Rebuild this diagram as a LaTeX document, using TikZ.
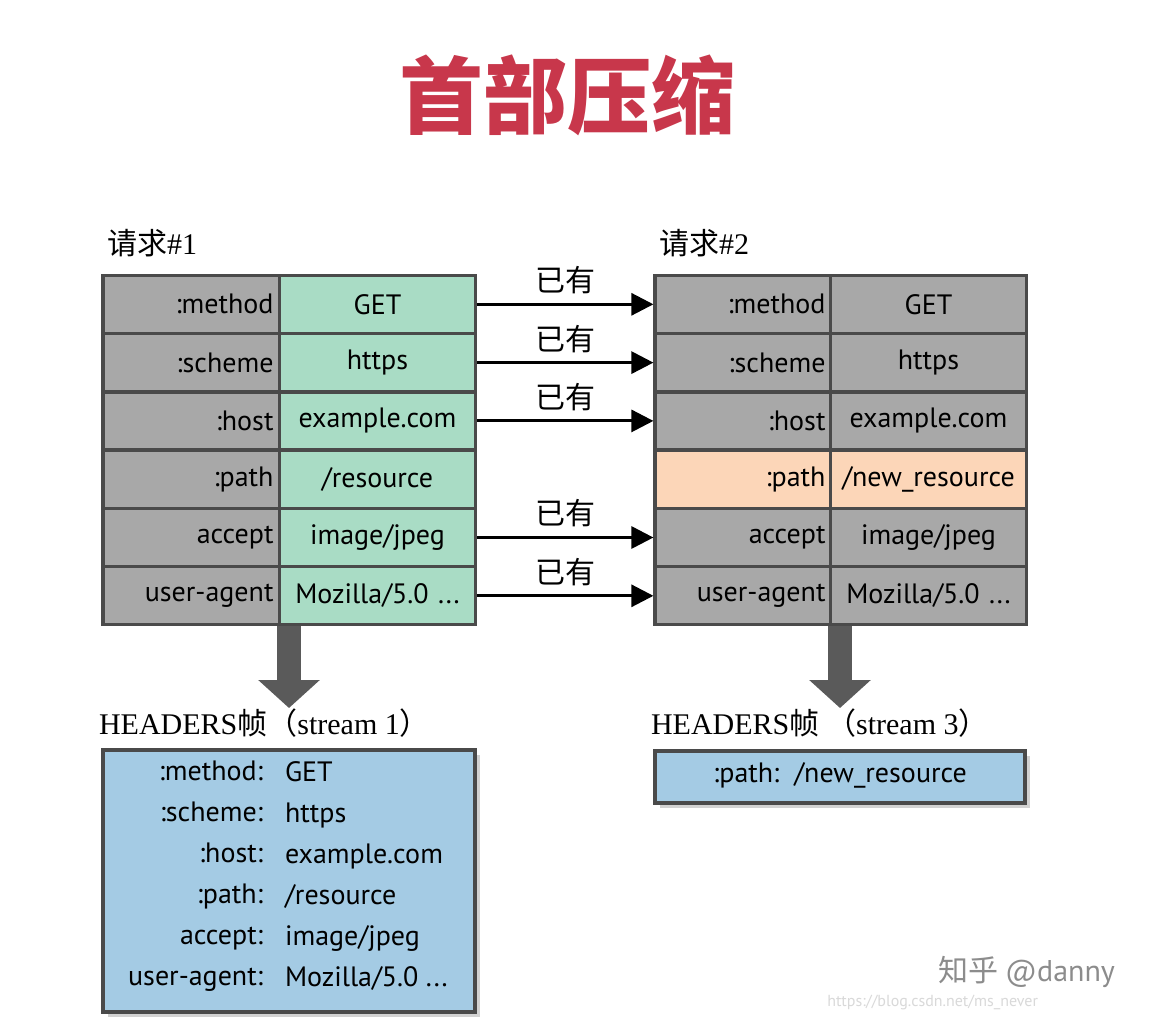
\documentclass[tikz,border=0pt]{standalone}
\usepackage{fontspec}
\setmainfont{Liberation Serif}
\setsansfont{PT Sans}
\newfontfamily\cjk{Noto Sans CJK SC}
\usetikzlibrary{arrows.meta, positioning, shadows}
\definecolor{TitleRed}{HTML}{C8374B}
\definecolor{KeyGray}{HTML}{A8A8A8}
\definecolor{ValGreen}{HTML}{A9DCC5}
\definecolor{NewOrange}{HTML}{FCD6B8}
\definecolor{FrameBlue}{HTML}{A4CBE4}
\definecolor{EdgeGray}{HTML}{4A4A4A}
\definecolor{DownGray}{HTML}{5A5A5A}
\newcommand{\trail}{.{}.{}.}

\begin{document}
\begin{tikzpicture}[x=0.5pt, y=-0.5pt,
        % Celdas de las tablas
        cell/.style={
                draw=EdgeGray,
                line width=1.6pt,
                minimum height=29pt,
                inner sep=3pt,
                font=\sffamily\fontsize{14}{14}\selectfont
            },
        keycell/.style={cell, fill=KeyGray, minimum width=88.5pt, align=right, text width=82pt},
        valcell/.style={cell, fill=ValGreen, minimum width=97.5pt, align=center, text width=92pt},
        % Flechas
        arrow/.style={-{Triangle[length=11pt, width=11pt]}, line width=1.5pt, color=black},
        downarrow/.style={-{Triangle[length=14pt, width=30pt]}, line width=12pt, color=DownGray},
        % Etiquetas
        haslabel/.style={font=\cjk\fontsize{15}{15}\selectfont},
        headlabel/.style={font=\fontsize{15}{15}\selectfont, anchor=west},
        framebox/.style={draw=EdgeGray, line width=1.6pt, fill=FrameBlue, drop shadow={opacity=0.35}},
        frameline/.style={font=\sffamily\fontsize{14}{20.5}\selectfont}
    ]
    \useasboundingbox (0,0) rectangle (1150,1024);
    \fill[white] (0,0) rectangle (1150,1024);

    % Título
    \node[font=\cjk\bfseries\fontsize{42}{42}\selectfont, text=TitleRed] (titulo) at (567,95) {首部压缩};

    % Cabeceras de las tablas
    \node[headlabel, font=\cjk\fontsize{15}{15}\selectfont] (req1) at (100,243) {请求\textrm{\#1}};
    \node[headlabel, font=\cjk\fontsize{15}{15}\selectfont] (req2) at (652,243) {请求\textrm{\#2}};

    % Tablas
    \foreach \i/\k/\v/\w in {1/:method/GET/GET, 2/:scheme/https/https, 3/:host/example.com/example.com,
            4/:path/\slash resource/\slash new\_resource, 5/accept/image\slash jpeg/image\slash jpeg,
            6/user-agent/Mozilla\slash 5.0 \trail/Mozilla\slash 5.0 \trail} {
        \node[keycell] (ak\i) at (191.5,{246+58.3*\i}) {\k};
        \node[valcell] (av\i) at (377.5,{246+58.3*\i}) {\v};
        \ifnum\i=4
            \node[keycell, fill=NewOrange] (bk\i) at (743.5,{246+58.3*\i}) {\k};
            \node[valcell, fill=NewOrange] (bv\i) at (928.5,{246+58.3*\i}) {\w};
        \else
            \node[keycell] (bk\i) at (743.5,{246+58.3*\i}) {\k};
            \node[valcell, fill=KeyGray] (bv\i) at (928.5,{246+58.3*\i}) {\w};
        \fi
    }

    % Flechas entre tablas
    \foreach \i in {1,2,3,5,6} {
        \draw[arrow] (av\i.east) -- (bk\i.west) node[haslabel, midway, above=1pt] {已有};
    }

    % Flechas hacia abajo
    \coordinate (u1) at (289,626);
    \coordinate (d1) at (289,708);
    \coordinate (u2) at (840,626);
    \coordinate (d2) at (840,708);
    \draw[downarrow] (u1) -- (d1);
    \draw[downarrow] (u2) -- (d2);

    % Tramas HEADERS
    \node[headlabel] (h1) at (92,723) {HEADERS{\cjk 帧（}stream 1{\cjk ）}};
    \node[headlabel] (h2) at (644,723) {HEADERS{\cjk 帧 （}stream 3{\cjk ）}};

    \node[framebox, minimum width=186pt, minimum height=131pt] (f1) at (289,881) {};
    \node[frameline, align=right, anchor=east] (f1k) at (270,876) {:method:\\:scheme:\\:host:\\:path:\\accept:\\user-agent:};
    \node[frameline, align=left, anchor=west] (f1v) at (278,876) {GET\\https\\example.com\\/resource\\image/jpeg\\Mozilla/5.0 \trail};

    \node[framebox, minimum width=185pt, minimum height=26pt] (f2) at (840,777) {};
    \node[frameline] (f2t) at (840,775) {:path:\ \ /new\_resource};

    % Marcas de agua
    \node[font=\cjk\fontsize{15}{15}\selectfont, text=black!45, anchor=east] (zh) at (1122,972) {知乎 \textsf{@danny}};
    \node[font=\sffamily\fontsize{8}{8}\selectfont, text=black!15, anchor=east] (csdn) at (1045,1002) {https://blog.csdn.net/ms\_never};
\end{tikzpicture}
\end{document}
